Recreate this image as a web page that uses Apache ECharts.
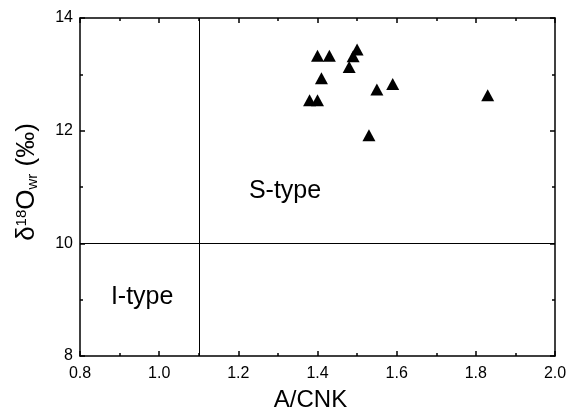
<!DOCTYPE html>
<html>
<head>
<meta charset="utf-8">
<script src="https://cdn.jsdelivr.net/npm/echarts@6/dist/echarts.min.js"></script>
<style>html,body{margin:0;padding:0;background:#fff}#c{width:567px;height:412px}</style>
</head>
<body>
<div id="c"></div>
<script>
var acnk = [1.40, 1.43, 1.50, 1.49, 1.48, 1.41, 1.38, 1.40, 1.55, 1.59, 1.53, 1.83];
var d18O = [13.33, 13.33, 13.44, 13.32, 13.13, 12.93, 12.54, 12.54, 12.73, 12.83, 11.92, 12.63];
var xTicks = [0.8, 1.0, 1.2, 1.4, 1.6, 1.8, 2.0];
var yTicks = [8, 10, 12, 14];
var boundaryX = 1.1;
var boundaryY = 10;
var regionLabels = [
  {name: 'S-type', x: 1.318, y: 10.92},
  {name: 'I-type', x: 0.957, y: 9.04}
];

var font = 'Liberation Sans, Arial, sans-serif';
var pts = acnk.map(function(v, i){ return [v, d18O[i]]; });

var chart = echarts.init(document.getElementById('c'), null, {renderer: 'canvas'});
var axisCommon = {
  axisLine: {show: true, onZero: false, lineStyle: {color: '#000', width: 1.5}},
  axisTick: {show: true, inside: true, length: 5, lineStyle: {color: '#000', width: 1.5}},
  minorTick: {show: true, splitNumber: 2, length: 3, lineStyle: {color: '#000', width: 1.5}},
  splitLine: {show: false}
};
function ax(extra){ return Object.assign({}, JSON.parse(JSON.stringify(axisCommon)), extra); }

chart.setOption({
  animation: false,
  backgroundColor: '#fff',
  grid: {left: 80, right: 12, top: 18, bottom: 56, containLabel: false, outerBoundsMode: 'none'},
  xAxis: [
    ax({type: 'value', min: xTicks[0], max: xTicks[xTicks.length-1], interval: 0.2, position: 'bottom',
      name: 'A/CNK', nameLocation: 'middle', nameGap: 32,
      nameTextStyle: {fontFamily: font, fontSize: 24, color: '#000', padding: [0, 14, 0, 0]},
      axisLabel: {fontFamily: font, fontSize: 16, color: '#000', margin: 10,
        formatter: function(v){ return v.toFixed(1); }}}),
    ax({type: 'value', min: xTicks[0], max: xTicks[xTicks.length-1], interval: 0.2, position: 'top',
      axisLabel: {show: false}})
  ],
  yAxis: [
    ax({type: 'value', min: yTicks[0], max: yTicks[yTicks.length-1], interval: 2, position: 'left',
      name: '{n|δ}{sup|18}{n|O}{sub|wr}{n| (‰)}', nameLocation: 'middle', nameGap: 40, nameRotate: 90,
      nameTextStyle: {fontFamily: font, color: '#000', padding: [0, 0, 0, 10],
        rich: {
          n: {fontFamily: font, fontSize: 26, color: '#000', verticalAlign: 'middle'},
          sup: {fontFamily: font, fontSize: 15, color: '#000', verticalAlign: 'top'},
          sub: {fontFamily: font, fontSize: 15, color: '#000', verticalAlign: 'bottom'}
        }},
      axisLabel: {fontFamily: font, fontSize: 16, color: '#000', margin: 7}}),
    ax({type: 'value', min: yTicks[0], max: yTicks[yTicks.length-1], interval: 2, position: 'right',
      axisLabel: {show: false}})
  ],
  series: [
    {
      type: 'scatter',
      symbol: 'triangle',
      symbolSize: [13, 12],
      itemStyle: {color: '#000', opacity: 1},
      data: pts,
      markLine: {
        silent: true,
        symbol: 'none',
        label: {show: false},
        lineStyle: {color: '#000', width: 1, type: 'solid', opacity: 1},
        data: [{xAxis: boundaryX}, {yAxis: boundaryY}]
      },
      z: 3
    },
    {
      type: 'scatter',
      symbolSize: 0,
      itemStyle: {opacity: 1},
      data: regionLabels.map(function(r){ return {name: r.name, value: [r.x, r.y]}; }),
      label: {show: true, position: 'inside', formatter: '{b}', fontFamily: font, fontSize: 25, color: '#000', opacity: 1},
      silent: true
    }
  ]
});
</script>
</body>
</html>
